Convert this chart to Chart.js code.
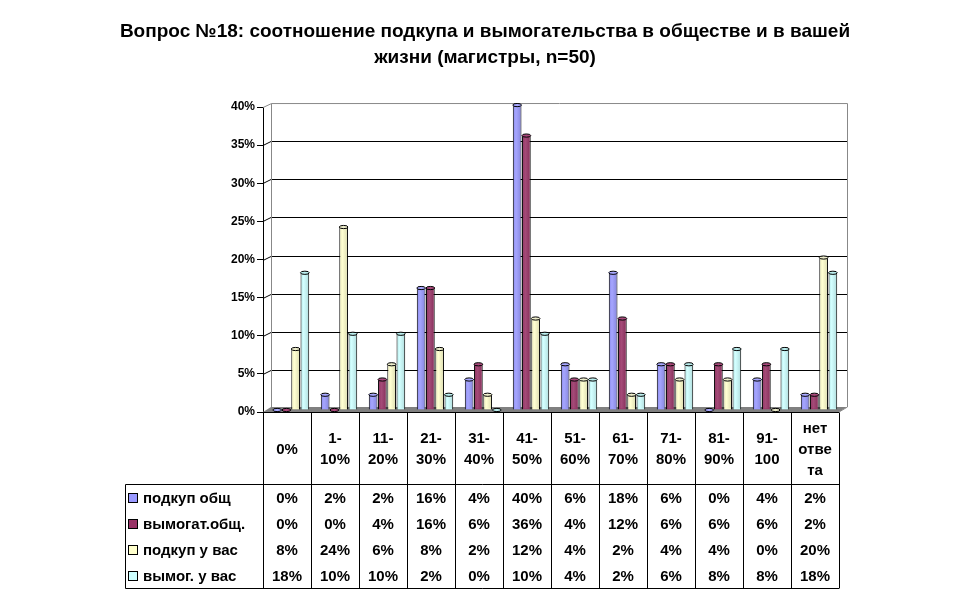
<!DOCTYPE html>
<html>
<head>
<meta charset="utf-8">
<script src="https://cdn.jsdelivr.net/npm/chart.js@4.4.0/dist/chart.umd.min.js"></script>
<style>
  html, body { margin: 0; padding: 0; background: #fff; }
  #chart { display: block; }
</style>
</head>
<body>
<canvas id="chart" width="970" height="604"></canvas>
<script>
// data
const categories = [['0%'], ['1-', '10%'], ['11-', '20%'], ['21-', '30%'], ['31-', '40%'], ['41-', '50%'],
    ['51-', '60%'], ['61-', '70%'], ['71-', '80%'], ['81-', '90%'], ['91-', '100'], ['нет', 'отве', 'та']];
const seriesNames = ['подкуп общ', 'вымогат.общ.', 'подкуп у вас', 'вымог. у вас'];
const bribeSociety = [0, 2, 2, 16, 4, 40, 6, 18, 6, 0, 4, 2];
const extortSociety = [0, 0, 4, 16, 6, 36, 4, 12, 6, 6, 6, 2];
const bribeYou = [8, 24, 6, 8, 2, 12, 4, 2, 4, 4, 0, 20];
const extortYou = [18, 10, 10, 2, 0, 10, 4, 2, 6, 8, 8, 18];
const yTicks = [0, 5, 10, 15, 20, 25, 30, 35, 40];

const colors = ['#9999FF', '#993366', '#FFFFCC', '#CCFFFF'];
const capColors = ['#A8A8FF', '#A8487A', '#EEEECC', '#BBEEEE'];
const FONT = "'Liberation Sans', Arial, sans-serif";
const DX = 8, DY = 5; // depth of the fake 3d box

// back wall, floor and gridlines, then bars shifted into the box
const box3d = {
    id: 'box3d',
    beforeDatasetsDraw: function (chart) {
        const ctx = chart.ctx;
        const a = chart.chartArea;
        const y = chart.scales.y;
        const top = y.getPixelForValue(40);
        const base = y.getPixelForValue(0);

        ctx.save();
        // floor
        ctx.fillStyle = '#808080';
        ctx.beginPath();
        ctx.moveTo(a.left, base);
        ctx.lineTo(a.right, base);
        ctx.lineTo(a.right + DX, base - DY);
        ctx.lineTo(a.left + DX, base - DY);
        ctx.closePath();
        ctx.fill();

        // gridlines on the back wall
        ctx.strokeStyle = '#000';
        ctx.lineWidth = 1;
        yTicks.slice(1, -1).forEach(function (v) {
            const py = Math.round(y.getPixelForValue(v)) + 0.5;
            ctx.beginPath();
            ctx.moveTo(a.left, py);
            ctx.lineTo(a.left + DX, py - DY + 1);
            ctx.lineTo(a.right + DX, py - DY + 1);
            ctx.stroke();
        });

        // wall outline
        ctx.strokeStyle = '#888';
        ctx.beginPath();
        ctx.moveTo(a.left, top + 0.5);
        ctx.lineTo(a.left + DX + 0.5, top - DY + 1.5);
        ctx.lineTo(a.right + DX + 0.5, top - DY + 1.5);
        ctx.lineTo(a.right + DX + 0.5, base - DY);
        ctx.lineTo(a.right, base);
        ctx.moveTo(a.left + DX + 0.5, top - DY + 1.5);
        ctx.lineTo(a.left + DX + 0.5, base - DY);
        ctx.stroke();

        // front edge of floor
        ctx.strokeStyle = '#000';
        ctx.beginPath();
        ctx.moveTo(a.left, Math.round(base) + 0.5);
        ctx.lineTo(a.right, Math.round(base) + 0.5);
        ctx.stroke();
        ctx.restore();

        ctx.save();
        ctx.translate(4, -2);
    },
    afterDatasetsDraw: function (chart) {
        const ctx = chart.ctx;
        chart.data.datasets.forEach(function (ds, di) {
            chart.getDatasetMeta(di).data.forEach(function (bar) {
                const w = bar.width;
                const left = bar.x - w / 2;
                const h = bar.base - bar.y;
                if (h > 1) {
                    const g = ctx.createLinearGradient(left, 0, left + w, 0);
                    g.addColorStop(0, 'rgba(0,0,0,0.05)');
                    g.addColorStop(0.35, 'rgba(255,255,255,0.12)');
                    g.addColorStop(1, 'rgba(0,0,0,0.15)');
                    ctx.fillStyle = g;
                    ctx.fillRect(left + 1, bar.y, w - 2, h - 1);
                }
                ctx.beginPath();
                ctx.ellipse(bar.x, bar.y, w / 2, 1.6, 0, 0, Math.PI * 2);
                ctx.fillStyle = capColors[di];
                ctx.fill();
                ctx.strokeStyle = '#000';
                ctx.lineWidth = 1;
                ctx.stroke();
            });
        });
        ctx.restore();
    }
};

// data table under the plot
const dataTable = {
    id: 'dataTable',
    afterDraw: function (chart) {
        const ctx = chart.ctx;
        const a = chart.chartArea;
        const x = chart.scales.x;
        const step = (a.right - a.left) / categories.length;
        const top = Math.round(a.bottom) + 0.5;
        const headBottom = 484.5;
        const rowH = 26;
        const bottom = headBottom + rowH * 4;
        const tableLeft = 125.5;
        const rows = [bribeSociety, extortSociety, bribeYou, extortYou];

        ctx.save();
        ctx.strokeStyle = '#000';
        ctx.lineWidth = 1;
        ctx.beginPath();
        for (let i = 0; i <= categories.length; i++) {
            const px = Math.round(a.left + i * step) + 0.5;
            ctx.moveTo(px, top);
            ctx.lineTo(px, bottom);
        }
        ctx.moveTo(tableLeft, headBottom);
        ctx.lineTo(a.right, headBottom);
        ctx.moveTo(tableLeft, bottom);
        ctx.lineTo(a.right, bottom);
        ctx.moveTo(tableLeft, headBottom);
        ctx.lineTo(tableLeft, bottom);
        ctx.stroke();

        ctx.fillStyle = '#000';
        ctx.textAlign = 'center';
        ctx.textBaseline = 'middle';
        ctx.font = 'bold 15px ' + FONT;
        categories.forEach(function (lines, i) {
            const cx = x.getPixelForValue(i);
            const mid = (top + headBottom) / 2;
            lines.forEach(function (t, li) {
                ctx.fillText(t, cx, mid + (li - (lines.length - 1) / 2) * 21 + 1);
            });
            rows.forEach(function (r, ri) {
                ctx.fillText(r[i] + '%', cx, headBottom + rowH * ri + rowH / 2 + 1);
            });
        });

        ctx.textAlign = 'left';
        seriesNames.forEach(function (name, ri) {
            const cy = headBottom + rowH * ri + rowH / 2;
            ctx.fillStyle = colors[ri];
            ctx.fillRect(128.5, Math.round(cy) - 4.5, 9, 9);
            ctx.strokeRect(128.5, Math.round(cy) - 4.5, 9, 9);
            ctx.fillStyle = '#000';
            ctx.fillText(name, 143, cy + 1);
        });
        ctx.restore();
    }
};

const seriesData = [bribeSociety, extortSociety, bribeYou, extortYou];

new Chart(document.getElementById('chart'), {
    type: 'bar',
    data: {
        labels: categories,
        datasets: seriesNames.map(function (name, i) {
            return {
                label: name,
                data: seriesData[i],
                backgroundColor: colors[i],
                borderColor: '#000',
                borderWidth: 1,
                borderSkipped: 'bottom',
                categoryPercentage: 0.77,
                barPercentage: 0.94
            };
        })
    },
    options: {
        responsive: false,
        animation: false,
        devicePixelRatio: 1,
        layout: { padding: 0 },
        plugins: {
            legend: { display: false },
            tooltip: { enabled: false },
            title: {
                display: true,
                text: ['Вопрос №18: соотношение подкупа и вымогательства в обществе и в вашей',
                    'жизни (магистры, n=50)'],
                color: '#000',
                font: { family: FONT, size: 19, weight: 'bold', lineHeight: 1.37 },
                padding: { top: 19, bottom: 36 }
            }
        },
        scales: {
            x: {
                display: true,
                grid: { display: false },
                border: { display: false },
                ticks: { display: false },
                afterFit: function (s) { s.height = 192; }
            },
            y: {
                min: 0,
                max: 40,
                afterBuildTicks: function (s) { s.ticks = yTicks.map(function (v) { return { value: v }; }); },
                grid: { drawOnChartArea: false, drawTicks: true, tickLength: 6, color: '#000' },
                border: { display: true, color: '#000' },
                ticks: {
                    color: '#000',
                    padding: 2,
                    font: { family: FONT, size: 12, weight: 'bold' },
                    callback: function (v) { return v + '%'; }
                },
                afterFit: function (s) { s.width = 263; }
            },
            yR: {
                position: 'right',
                display: true,
                grid: { display: false },
                border: { display: false },
                ticks: { display: false },
                afterFit: function (s) { s.width = 131; }
            }
        }
    },
    plugins: [box3d, dataTable]
});
</script>
</body>
</html>
